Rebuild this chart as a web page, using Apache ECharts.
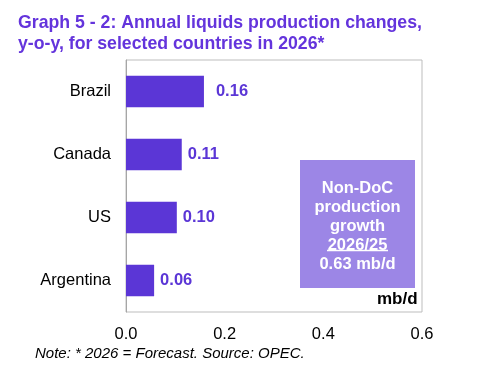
<!DOCTYPE html>
<html><head><meta charset="utf-8">
<script src="https://cdn.jsdelivr.net/npm/echarts@6/dist/echarts.min.js"></script>
<style>html,body{margin:0;padding:0;background:#fff}#c{width:482px;height:374px}</style>
</head><body><div id="c"></div>
<script>
const categories = ['Argentina', 'US', 'Canada', 'Brazil'];
const values = [0.057, 0.103, 0.113, 0.158];
const labelDist = [6, 6, 6, 12];
const xTicks = [0, 0.2, 0.4, 0.6];
const titleText = 'Graph 5 - 2: Annual liquids production changes,\ny-o-y, for selected countries in 2026*';
const noteText = 'Note: * 2026 = Forecast. Source: OPEC.';
const boxLines = ['Non-DoC', 'production', 'growth', '2026/25', '0.63 mb/d'];

const chart = echarts.init(document.getElementById('c'));
const font = '"Liberation Sans", Arial, sans-serif';
const purple = '#5b36d6';
const boxChildren = [{type:'rect', shape:{x:0,y:0,width:115,height:128}, style:{fill:'#9c86e6'}}];
boxLines.forEach((t,i)=>{
  boxChildren.push({type:'text', style:{text:t, x:57.5, y:28+i*19, align:'center', verticalAlign:'middle', fill:'#fff', font:'bold 16.5px '+font}});
});
boxChildren.push({type:'line', shape:{x1:27,y1:90.5,x2:88,y2:90.5}, style:{stroke:'#fff', lineWidth:1.3}});

chart.setOption({
  animation:false,
  title:{text:titleText, left:13, top:8, textStyle:{color:'#6434dc', fontFamily:font, fontWeight:'bold', fontSize:17.7, lineHeight:20.5}},
  grid:{left:126, right:60, top:60, bottom:62, show:true, borderColor:'#bdbdbd', borderWidth:1},
  xAxis:{type:'value', min:0, max:0.6, interval:0.2,
    axisLine:{show:false}, axisTick:{show:false}, splitLine:{show:false},
    axisLabel:{color:'#000', fontFamily:font, fontSize:16.5, margin:14, formatter:v=>v.toFixed(1)}},
  yAxis:{type:'category', data:categories,
    axisLine:{show:true, lineStyle:{color:'#a6a6a6'}}, axisTick:{show:false},
    axisLabel:{color:'#000', fontFamily:font, fontSize:16.5, margin:15}},
  series:[{type:'bar', barWidth:'50%', itemStyle:{color:purple},
    data: values.map((v,i)=>({value:v, label:{distance:labelDist[i]}})),
    label:{show:true, position:'right', color:purple, fontFamily:font, fontWeight:'bold', fontSize:16.5,
      formatter:p=>p.value.toFixed(2)}}],
  graphic:[
    {type:'group', left:300, top:160, children:boxChildren},
    {type:'text', left:377, top:291, style:{text:'mb/d', fill:'#000', font:'bold 17px '+font}},
    {type:'text', left:35, top:346, style:{text:noteText, fill:'#000', font:'italic 15px '+font}}
  ]
});
</script></body></html>
